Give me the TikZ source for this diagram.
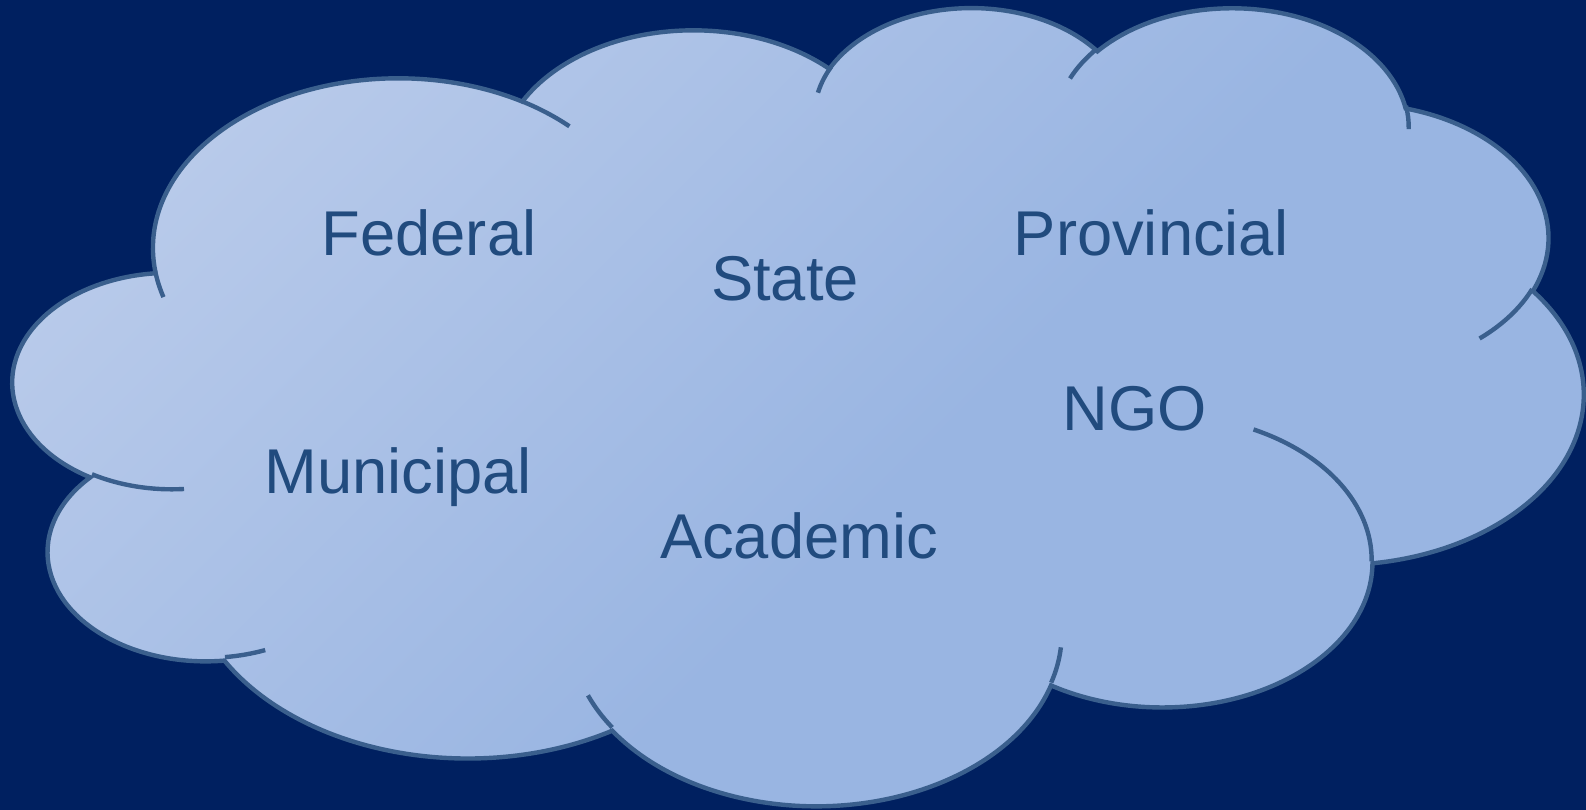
\documentclass[tikz,border=0pt]{standalone}
\usepackage{fontspec}
\setmainfont{Liberation Sans}
\usepackage{tikz}
\usetikzlibrary{calc}
\definecolor{slidebg}{HTML}{002060}
\definecolor{cloudline}{HTML}{3A5F8D}
\definecolor{cloudtext}{HTML}{214B7E}
\definecolor{cloudlight}{HTML}{B8CAEA}
\definecolor{cloudmid}{HTML}{99B5E2}
\pgfdeclarehorizontalshading{cloudshade}{100bp}{color(0bp)=(cloudlight); color(25bp)=(cloudlight); color(55bp)=(cloudmid); color(100bp)=(cloudmid)}

\begin{document}
\begin{tikzpicture}[x=0.01cm, y=-0.01cm,
  declare function={
    ooang(\oow,\ooh,\ooa)=atan2(\oow*sin(\ooa),\ooh*cos(\ooa));
    oodiff(\oow,\ooh,\ooa,\oos)=ooang(\oow,\ooh,\ooa+\oos)-ooang(\oow,\ooh,\ooa)-\oos;
    oodel(\oow,\ooh,\ooa,\oos)=\oos+oodiff(\oow,\ooh,\ooa,\oos)-360*round(oodiff(\oow,\ooh,\ooa,\oos)/360);
  },
  ooarc/.style n args={4}{insert path={arc[x radius=#1, y radius=#2, start angle={ooang(#1,#2,#3)}, delta angle={oodel(#1,#2,#3,#4)}]}},
  lobe/.style={draw=cloudline, line width=1.25pt},
  agency/.style={text=cloudtext, font=\fontsize{18}{21}\selectfont, anchor=base}]
\useasboundingbox (0,0) rectangle (1586,810);
\fill[slidebg] (0,0) rectangle (1586,810);
\begin{scope}[shift={(13.5,5.5)}, x=0.0036355cm, y=-0.0018437cm]
\draw[lobe, shade, shading=cloudshade, shading angle=-45] (390.0,1437.0)
  [ooarc={675.3}{919.0}{-190.4875}{123.7805}]
  [ooarc={533.3}{726.7}{-144.1024}{89.9452}]
  [ooarc={436.5}{594.5}{-145.8079}{99.7230}]
  [ooarc={485.7}{659.5}{-130.9861}{117.2417}]
  [ooarc={533.3}{727.3}{-78.7089}{109.0269}]
  [ooarc={677.5}{922.0}{-46.2673}{130.2690}]
  [ooarc={578.5}{786.7}{0.6250}{114.0333}]
  [ooarc={675.2}{921.5}{22.4516}{115.1726}]
  [ooarc={772.0}{1054.3}{66.2426}{75.7110}]
  [ooarc={436.0}{591.8}{-274.9421}{146.7356}]
  [ooarc={434.5}{594.5}{-246.8285}{152.5189}] -- cycle;
\draw[lobe] (469.3,2617.7) [ooarc={434.5}{594.5}{86.742}{26.4295}]
  (692.8,3489.9) [ooarc={436.0}{591.8}{73.6105}{11.4475}]
  (1647.8,3909.0) [ooarc={675.2}{921.5}{137.6242}{14.0811}]
  (2882.7,3475.1) [ooarc={675.2}{921.5}{6.4533}{15.9984}]
  (3412.9,2295.4) [ooarc={578.5}{786.7}{-70.2924}{70.9174}]
  (4179.8,1535.4) [ooarc={533.3}{727.3}{30.3180}{27.7515}]
  (3832.4,542.6) [ooarc={485.7}{659.5}{-13.7443}{14.8589}]
  (2907.8,395.2) [ooarc={485.7}{659.5}{-149.1815}{18.1954}]
  (2214.1,472.0) [ooarc={436.5}{594.5}{-163.4943}{17.6864}]
  (1400.0,519.2) [ooarc={675.3}{919.0}{-66.7070}{12.3194}]
  (412.7,1578.9) [ooarc={675.3}{919.0}{157.6544}{11.8582}];
\end{scope}
\node[agency] (federal) at (429,256) {Federal};
\node[agency] (state) at (785,301) {State};
\node[agency] (provincial) at (1151,256) {Provincial};
\node[agency] (ngo) at (1135,431) {NGO};
\node[agency] (municipal) at (398,494) {Municipal};
\node[agency] (academic) at (799,558) {Academic};
\end{tikzpicture}
\end{document}
